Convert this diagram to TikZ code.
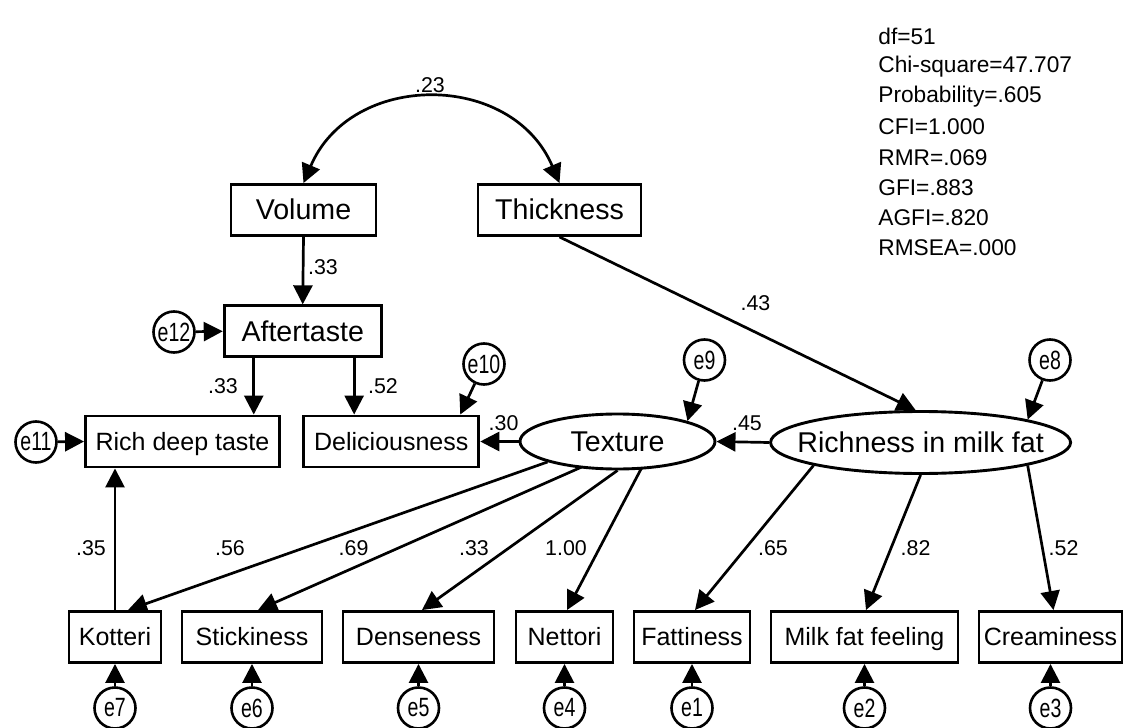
\documentclass[tikz,border=0pt]{standalone}
\usepackage{fontspec}
\setmainfont{Liberation Sans}
\usetikzlibrary{arrows.meta,calc,shapes.geometric}
\newcommand{\elab}[1]{\scalebox{0.74}[1]{#1}}
\begin{document}
\begin{tikzpicture}[x=0.5pt,y=-0.5pt,
  box/.style={draw,line width=1.45pt,minimum height=25.5pt,inner sep=0pt,text height=8.6pt,text depth=0pt,font=\fontsize{12.5}{14}\selectfont},
  bigbox/.style={box,text height=9.9pt,text depth=0pt,font=\fontsize{14.3}{16}\selectfont},
  lat/.style={draw,ellipse,line width=1.45pt,inner sep=0pt,font=\fontsize{14.3}{16}\selectfont},
  err/.style={draw,circle,line width=1.3pt,minimum size=20.5pt,inner sep=0pt,font=\fontsize{13.2}{14}\selectfont},
  arr/.style={line width=1.35pt,-{Triangle[length=9.5pt,width=9.5pt]}},
  dbl/.style={line width=1.35pt,{Triangle[length=9.5pt,width=9.5pt]}-{Triangle[length=9.5pt,width=9.5pt]}},
  coef/.style={inner sep=0pt,font=\fontsize{10.7}{12}\selectfont},
  stat/.style={inner sep=0pt,anchor=west,font=\fontsize{11.35}{13}\selectfont}]
\useasboundingbox[fill=white] (0,0) rectangle (1126,728);

% observed variables (top)
\node[bigbox,minimum width=72.5pt] (vol) at (303.5,210) {Volume};
\node[bigbox,minimum width=81.5pt] (thk) at (559.5,210) {Thickness};
\node[bigbox,minimum width=78.5pt] (aft) at (302.7,331.3) {Aftertaste};
\node[box,minimum width=97pt] (rich) at (182.5,441.5) {Rich deep taste};
\node[box,minimum width=87.5pt] (del) at (391.3,441.5) {Deliciousness};

% latent variables
\node[lat,minimum width=97.5pt,minimum height=27.5pt] (tex) at (617.5,441.5) {\makebox[0pt]{Texture}};
\node[lat,minimum width=150pt,minimum height=31pt] (rmf) at (920.6,442.5) {\makebox[0pt]{Richness in milk fat}};

% bottom row
\node[box,minimum width=46pt] (kot) at (115,637) {Kotteri};
\node[box,minimum width=70pt] (sti) at (252,637) {Stickiness};
\node[box,minimum width=75.5pt] (den) at (418.5,637) {Denseness};
\node[box,minimum width=48.5pt] (net) at (564.5,637) {Nettori};
\node[box,minimum width=58pt] (fat) at (692,637) {Fattiness};
\node[box,minimum width=93.5pt] (mff) at (864.5,637) {Milk fat feeling};
\node[box,minimum width=71.5pt] (cre) at (1050.5,637) {Creaminess};

% error terms
\node[err] (e7) at (115,708) {\elab{e7}};
\node[err] (e6) at (252,708) {\elab{e6}};
\node[err] (e5) at (418.5,708) {\elab{e5}};
\node[err] (e4) at (564.5,708) {\elab{e4}};
\node[err] (e1) at (692,708) {\elab{e1}};
\node[err] (e2) at (864.5,708) {\elab{e2}};
\node[err] (e3) at (1050.5,708) {\elab{e3}};
\node[err] (e12) at (174,332) {\elab{e12}};
\node[err] (e11) at (36,442) {\elab{e11}};
\node[err] (e10) at (484,364) {\elab{e10}};
\node[err] (e9) at (704.5,360) {\elab{e9}};
\node[err] (e8) at (1050,360) {\elab{e8}};

% covariance
\draw[dbl] (vol.north) to[out=67,in=113,looseness=1.22] (thk.north);

% paths
\draw[arr] (vol.south) -- (aft.north);
\coordinate (a1) at ($(aft.south west)+(31,0)$);
\coordinate (a2) at ($(aft.south east)+(-28.5,0)$);
\draw[arr] (a1) -- (a1 |- rich.north);
\draw[arr] (a2) -- (a2 |- del.north);
\draw[arr] (kot.north) -- (kot.north |- rich.south);
\draw[arr] (tex.west) -- (del.east);
\draw[arr] (rmf.west) -- (tex.east);
\draw[arr] (thk.south) -- ($(rmf.north)+(-5,0)$);

\draw[arr] (tex.south west) -- ($(kot.north)+(13,0)$);
\draw[arr] ($(tex.center)+(-36,25.6)$) -- ($(sti.north)+(6,0)$);
\draw[arr] (tex.south) -- ($(den.north)+(3.5,0)$);
\draw[arr] ($(tex.center)+(24,26.6)$) -- ($(net.north)+(2.5,0)$);
\draw[arr] (rmf.south west) -- ($(fat.north)+(3,0)$);
\draw[arr] (rmf.south) -- ($(mff.north)+(1.5,0)$);
\draw[arr] (rmf.south east) -- ($(cre.north)+(3,0)$);

% error arrows
\draw[arr] (e7) -- (kot.south);
\draw[arr] (e6) -- (sti.south);
\draw[arr] (e5) -- (den.south);
\draw[arr] (e4) -- (net.south);
\draw[arr] (e1) -- (fat.south);
\draw[arr] (e2) -- (mff.south);
\draw[arr] (e3) -- (cre.south);
\draw[arr] (e12) -- (aft.west);
\draw[arr] (e11) -- (rich.west);
\draw[arr] (e10) -- ($(del.north east)+(-20,0)$);
\draw[arr] (e9) -- (tex.north east);
\draw[arr] (e8) -- (rmf.north east);

% coefficients
\node[coef] (c1) at (430,85) {.23};
\node[coef] (c2) at (323,267) {.33};
\node[coef] (c3) at (223,386) {.33};
\node[coef] (c4) at (383,386) {.52};
\node[coef] (c5) at (503.6,422.7) {.30};
\node[coef] (c6) at (747,423) {.45};
\node[coef] (c7) at (755.5,303) {.43};
\node[coef] (c8) at (91,548) {.35};
\node[coef] (c9) at (230,548) {.56};
\node[coef] (c10) at (353.6,548) {.69};
\node[coef] (c11) at (474,548) {.33};
\node[coef] (c12) at (566,548) {1.00};
\node[coef] (c13) at (773,548) {.65};
\node[coef] (c14) at (915.6,548) {.82};
\node[coef] (c15) at (1063.6,548) {.52};

% fit statistics
\node[stat] (s1) at (878,36) {df=51};
\node[stat] (s2) at (878,66.3) {Chi-square=47.707};
\node[stat] (s3) at (878,96.6) {Probability=.605};
\node[stat] (s4) at (878,126.9) {CFI=1.000};
\node[stat] (s5) at (878,157.2) {RMR=.069};
\node[stat] (s6) at (878,187.5) {GFI=.883};
\node[stat] (s7) at (878,217.8) {AGFI=.820};
\node[stat] (s8) at (878,248.1) {RMSEA=.000};
\end{tikzpicture}
\end{document}
